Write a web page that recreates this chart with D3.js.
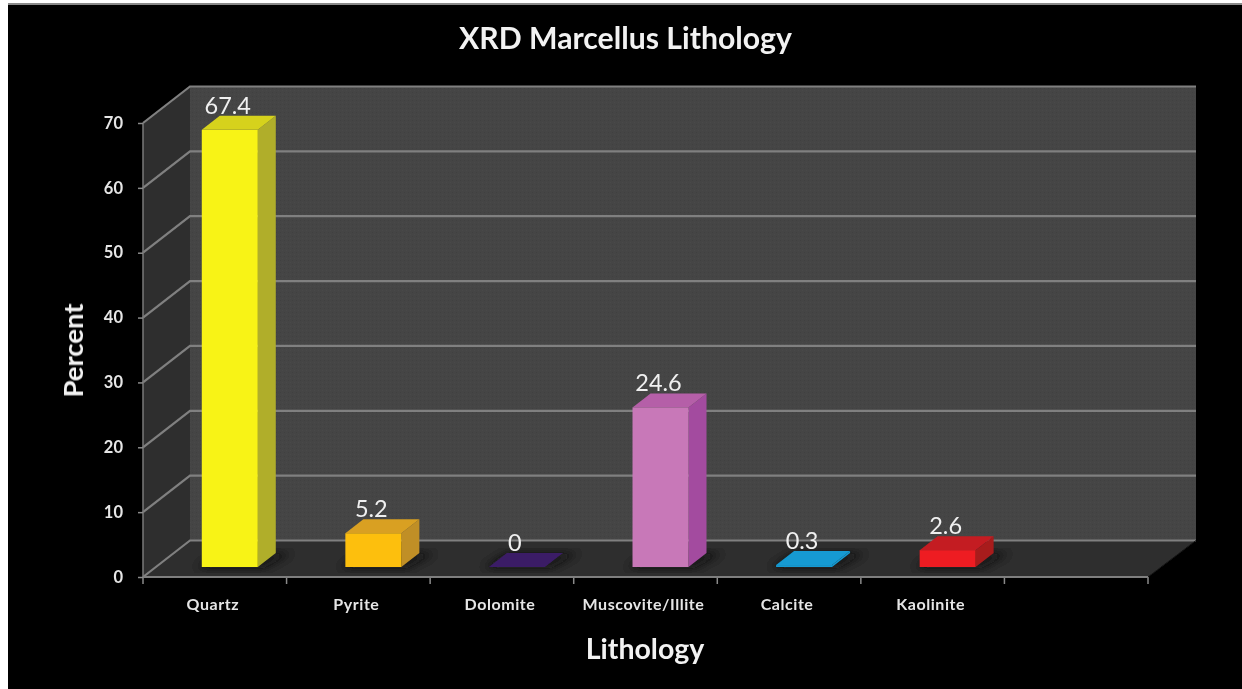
<!DOCTYPE html>
<html><head><meta charset="utf-8">
<script src="https://cdn.jsdelivr.net/npm/d3@7"></script>
<style>html,body{margin:0;padding:0;background:#fff;overflow:hidden}svg{display:block}text{font-family:Lato,"Open Sans",sans-serif}</style>
</head><body><div id="c"></div>
<script>
const categories = ["Quartz","Pyrite","Dolomite","Muscovite/Illite","Calcite","Kaolinite",""];
const values = [67.4,5.2,0,24.6,0.3,2.6];
const frontColors = ["#f8f314","#fdbf10","#3b1a66","#c878b8","#129ad2","#ee1c22"];
const topColors = ["#d6d21e","#d9a021","#3b1a66","#b55fa8","#129ad2","#c41c20"];
const sideColors = ["#b0ae2c","#c08f26","#3b1a66","#a34c9f","#129ad2","#a81b1d"];
const yTicks = [0,10,20,30,40,50,60,70];

const W=1242,H=689;
const svg=d3.select("#c").append("svg").attr("width",W).attr("height",H);
const defs=svg.append("defs");
const pat=defs.append("pattern").attr("id","tex").attr("width",4).attr("height",4).attr("patternUnits","userSpaceOnUse");
pat.append("rect").attr("width",4).attr("height",4).attr("fill","#454545");
pat.append("rect").attr("x",0).attr("y",0).attr("width",1).attr("height",1).attr("fill","#404040");
pat.append("rect").attr("x",2).attr("y",2).attr("width",1).attr("height",1).attr("fill","#494949");
defs.append("filter").attr("id","blur").attr("x","-30%").attr("y","-30%").attr("width","160%").attr("height","160%")
  .append("feGaussianBlur").attr("stdDeviation",5);
defs.append("filter").attr("id","soft").attr("x","-5%").attr("y","-5%").attr("width","110%").attr("height","110%")
  .append("feGaussianBlur").attr("stdDeviation",0.6);

// page frame
svg.append("rect").attr("width",W).attr("height",H).attr("fill","#fff");
svg.append("rect").attr("x",8).attr("y",4).attr("width",W-8).attr("height",H-4).attr("fill","#000");
svg.append("rect").attr("x",8).attr("y",3).attr("width",W-8).attr("height",2).attr("fill","#8a8a8a");

const g=svg.append("g").attr("filter","url(#soft)");

const x=d3.scaleBand().domain(categories).range([143,1148]).paddingInner(0.61).paddingOuter(0.305);
const y=d3.scaleLinear().domain([0,70]).range([577,123]);
const step=x.step();
const depth={dx:47,dy:-36.5};     // wall depth
const barOff={dx:15,dy:-10};      // front of the bars relative to the front of the floor
const barD={dx:18,dy:-14};        // bar depth
const x0=143,x1=1148;
const pts=a=>a.map(p=>p.join(",")).join(" ");

// back wall, left wall, floor
g.append("polygon").attr("fill","url(#tex)").attr("points",pts([[x0+depth.dx,y(70)+depth.dy],[x1+depth.dx+1,y(70)+depth.dy],[x1+depth.dx+1,y(0)+depth.dy],[x0+depth.dx,y(0)+depth.dy]]));
g.append("polygon").attr("fill","#2f2f2f").attr("points",pts([[x0,y(70)],[x0+depth.dx,y(70)+depth.dy],[x0+depth.dx,y(0)+depth.dy],[x0,y(0)]]));
g.append("polygon").attr("fill","#2e2e2e").attr("points",pts([[x0,y(0)],[x0+depth.dx,y(0)+depth.dy],[x1+depth.dx+1,y(0)+depth.dy],[x1,y(0)]]));

// gridlines
yTicks.forEach(t=>{
  g.append("polyline").attr("fill","none").attr("stroke","#808080").attr("stroke-width",2.2)
   .attr("points",pts([[x0,y(t)],[x0+depth.dx,y(t)+depth.dy],[x1+depth.dx+1,y(t)+depth.dy]]));
});
g.append("line").attr("x1",x0).attr("x2",x0).attr("y1",y(70)).attr("y2",y(0)).attr("stroke","#7a7a7a").attr("stroke-width",1.5);
g.append("line").attr("x1",x1).attr("y1",y(0)).attr("x2",x1+depth.dx+1).attr("y2",y(0)+depth.dy).attr("stroke","#151515").attr("stroke-width",1);

// left axis
const yAxis=d3.axisLeft(y).tickValues(yTicks).tickSize(5).tickPadding(15);
const ya=g.append("g").attr("transform",`translate(${x0},0)`).call(yAxis);
ya.select(".domain").remove();
ya.selectAll("line").attr("stroke","#8a8a8a").attr("stroke-width",1.5);
ya.selectAll("text").attr("fill","#e6e6e6").attr("font-size",16.5).attr("font-weight",700).attr("font-family","Lato");

// bottom axis
const bounds=d3.range(categories.length+1);
g.selectAll(".xt").data(bounds).join("line").attr("class","xt")
  .attr("x1",i=>x.range()[0]+i*step).attr("x2",i=>x.range()[0]+i*step)
  .attr("y1",y(0)).attr("y2",y(0)+7).attr("stroke","#8a8a8a").attr("stroke-width",1.5);
g.append("line").attr("x1",x0).attr("x2",x1).attr("y1",y(0)).attr("y2",y(0)).attr("stroke","#7f7f7f").attr("stroke-width",2);
const xAxis=d3.axisBottom(x).tickSize(0).tickPadding(0);
const xa=g.append("g").attr("transform",`translate(-2,${y(0)+22})`).call(xAxis);
xa.select(".domain").remove();
xa.selectAll("text").attr("fill","#e6e6e6").attr("font-size",16).attr("font-weight",700).attr("font-family","Lato").attr("letter-spacing",0.55);

// bars
const h=v=>y(0)-y(v);
const baseY=y(0)+barOff.dy;
const data=values.map((v,i)=>({v,i,c:categories[i]}));
const bars=g.selectAll(".bar").data(data).join("g").attr("class","bar");
const bl=d=>x(d.c)+barOff.dx, w=x.bandwidth();
bars.append("polygon").attr("filter","url(#blur)").attr("fill","#0c0c0c").attr("opacity",.75)
  .attr("points",d=>pts([[bl(d)-6,baseY+1],[bl(d)+w+6,baseY+1],[bl(d)+w+barD.dx+16,baseY+barD.dy],[bl(d)+barD.dx,baseY+barD.dy]]));
bars.append("polygon").attr("fill",d=>sideColors[d.i])
  .attr("points",d=>pts([[bl(d)+w,baseY],[bl(d)+w+barD.dx,baseY+barD.dy],[bl(d)+w+barD.dx,baseY+barD.dy-h(d.v)],[bl(d)+w,baseY-h(d.v)]]));
bars.append("polygon").attr("fill",d=>topColors[d.i])
  .attr("points",d=>pts([[bl(d),baseY-h(d.v)],[bl(d)+w,baseY-h(d.v)],[bl(d)+w+barD.dx,baseY+barD.dy-h(d.v)],[bl(d)+barD.dx,baseY+barD.dy-h(d.v)]]));
bars.append("rect").attr("x",bl).attr("width",w).attr("y",d=>baseY-h(d.v)).attr("height",d=>h(d.v)).attr("fill",d=>frontColors[d.i]);

// value labels
bars.append("text").attr("text-anchor","middle").attr("fill","#f0f0f0").attr("font-size",23.5)
  .attr("font-family","Lato")
  .attr("x",d=>bl(d)+w/2-2).attr("y",d=>baseY+barD.dy-h(d.v)-2).text(d=>d.v);

// titles
g.append("text").attr("x",625.5).attr("y",49).attr("text-anchor","middle").attr("fill","#f2f2f2").attr("font-size",30.2).attr("font-weight",700).text("XRD Marcellus Lithology");
g.append("text").attr("x",645).attr("y",659).attr("text-anchor","middle").attr("fill","#f2f2f2").attr("font-size",28.5).attr("font-weight",700).text("Lithology");
g.append("text").attr("transform","translate(83,350.5) rotate(-90)").attr("text-anchor","middle").attr("fill","#f2f2f2").attr("font-size",27.5).attr("font-weight",700).text("Percent");
</script></body></html>
